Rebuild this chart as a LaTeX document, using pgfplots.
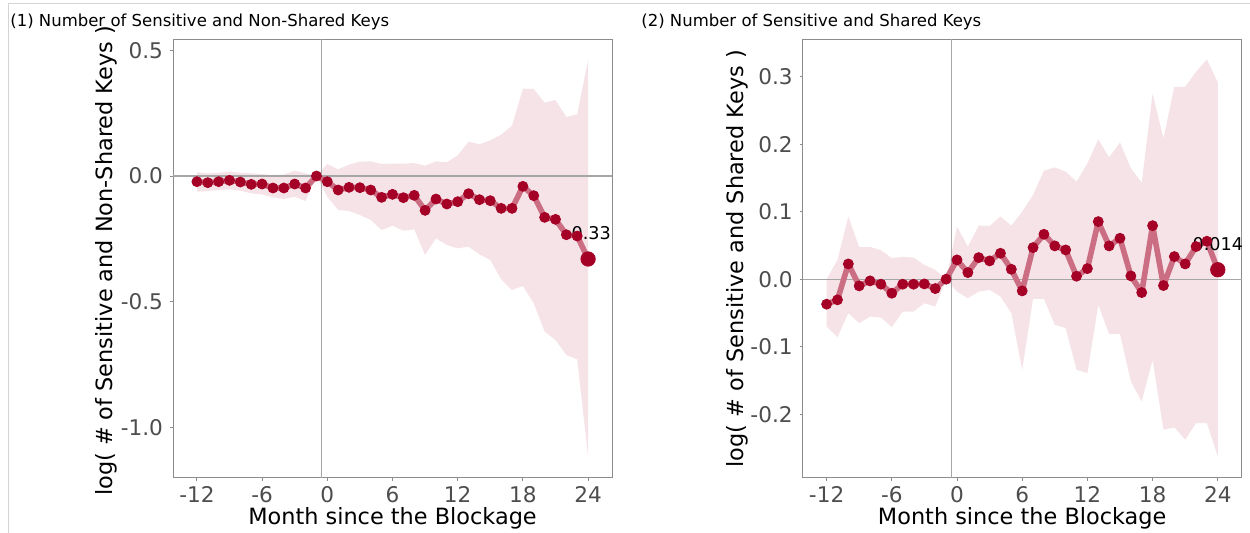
\documentclass[border=0pt]{standalone}
\usepackage{pgfplots}
\pgfplotsset{compat=1.18}
\usepackage{pgfplotstable}
\usepgfplotslibrary{fillbetween}
\usepackage{fontspec}
\setmainfont{DejaVu Sans}

\definecolor{estred}{HTML}{A50026}
\colorlet{bandpink}{estred!11!white}
\colorlet{linepink}{estred!57!white}
\definecolor{refgray}{HTML}{A6A6A6}
\definecolor{framegray}{HTML}{8C8C8C}
\definecolor{ticktext}{HTML}{4D4D4D}
\definecolor{pagegray}{HTML}{D4D4D4}

% event-study estimates: month, point estimate, lower and upper bound
\pgfplotstableread{
m   est      lo       hi
-12 -0.0225 -0.0623  0.0146
-11 -0.0265 -0.0597  0.0106
-10 -0.0225 -0.0557  0.0130
-9  -0.0172 -0.0530  0.0172
-8  -0.0239 -0.0583  0.0130
-7  -0.0331 -0.0690  0.0106
-6  -0.0318 -0.0730  0.0080
-5  -0.0477 -0.0849  0.0040
-4  -0.0477 -0.0915  0.0060
-3  -0.0318 -0.0822  0.0212
-2  -0.0477 -0.0995  0.0106
-1   0.0000  0.0000  0.0000
0   -0.0225 -0.0822  0.0477
1   -0.0557 -0.1352  0.0265
2   -0.0450 -0.1392  0.0450
3   -0.0464 -0.1551  0.0570
4   -0.0557 -0.1750  0.0583
5   -0.0849 -0.2148  0.0477
6   -0.0729 -0.1976  0.0490
7   -0.0862 -0.2175  0.0490
8   -0.0769 -0.2121  0.0517
9   -0.1366 -0.3142  0.0410
10  -0.0915 -0.2479  0.0583
11  -0.1114 -0.2745  0.0544
12  -0.1021 -0.2877  0.0822
13  -0.0703 -0.2811  0.1366
14  -0.0941 -0.3116  0.1260
15  -0.0981 -0.3341  0.1419
16  -0.1286 -0.4110  0.1644
17  -0.1286 -0.4535  0.2002
18  -0.0411 -0.4375  0.3474
19  -0.0782 -0.5065  0.3460
20  -0.1644 -0.6192  0.2917
21  -0.1724 -0.6523  0.3023
22  -0.2335 -0.7120  0.2347
23  -0.2387 -0.7292  0.2453
24  -0.3300 -1.1164  0.4614
}\nonshared

\pgfplotstableread{
m   est      lo       hi
-12 -0.0370 -0.0700  0.0000
-11 -0.0306 -0.0858  0.0286
-10  0.0226 -0.0503  0.0927
-9  -0.0099 -0.0651  0.0473
-8  -0.0025 -0.0553  0.0478
-7  -0.0074 -0.0568  0.0429
-6  -0.0208 -0.0710  0.0311
-5  -0.0074 -0.0479  0.0330
-4  -0.0074 -0.0479  0.0320
-3  -0.0070 -0.0355  0.0212
-2  -0.0139 -0.0405  0.0138
-1   0.0000  0.0000  0.0000
0    0.0286 -0.0183  0.0779
1    0.0098 -0.0282  0.0483
2    0.0320 -0.0183  0.0793
3    0.0271 -0.0158  0.0789
4    0.0384 -0.0257  0.0927
5    0.0147 -0.0503  0.0793
6   -0.0173 -0.1342  0.1000
7    0.0468 -0.0291  0.1247
8    0.0665 -0.0291  0.1607
9    0.0493 -0.0676  0.1656
10   0.0433 -0.0725  0.1592
11   0.0044 -0.1342  0.1444
12   0.0157 -0.1391  0.1716
13   0.0853 -0.0380  0.2071
14   0.0493 -0.0814  0.1804
15   0.0606 -0.0814  0.2026
16   0.0049 -0.1514  0.1642
17  -0.0198 -0.1810  0.1429
18   0.0793 -0.1194  0.2751
19  -0.0094 -0.2229  0.2085
20   0.0335 -0.2195  0.2850
21   0.0226 -0.2377  0.2850
22   0.0483 -0.2131  0.3071
23   0.0562 -0.2131  0.3254
24   0.0140 -0.2624  0.2914
}\shared

\pgfplotsset{
  eventpanel/.style={
    scale only axis, width=219.5pt, height=219.25pt,
    xmin=-14.2, xmax=26.2, clip=false,
    xtick={-12,-6,0,6,12,18,24}, xticklabels={-12,-6,0,6,12,18,24},
    tick align=outside, major tick length=1.5pt,
    xtick pos=bottom, ytick pos=left,
    axis line style={framegray, line width=0.5pt},
    major tick style={framegray, line width=0.5pt},
    ticklabel style={font=\fontsize{10.8}{13}\selectfont, text=ticktext},
    xticklabel style={yshift=1pt},
    label style={font=\fontsize{11.2}{13.4}\selectfont},
    xlabel={Month since the Blockage},
    xlabel style={at={(axis description cs:0.5,-0.0912)}, anchor=center},
  },
}

\begin{document}
\begin{tikzpicture}
\draw[pagegray, line width=0.6pt] (4.25pt,0) -- (4.25pt,264.85pt) -- (625pt,264.85pt);

\node[anchor=base west, font=\fontsize{8.25}{9.9}\selectfont, inner sep=0] at (5pt,253pt)
  {(1) Number of Sensitive and Non-Shared Keys};
\node[anchor=base west, font=\fontsize{8.25}{9.9}\selectfont, inner sep=0] at (320.5pt,253pt)
  {(2) Number of Sensitive and Shared Keys};

% panel 1: non-shared keys
\begin{axis}[eventpanel, at={(86.5pt,27.5pt)}, anchor=south west,
  ymin=-1.201, ymax=0.543,
  ytick={-1,-0.5,0,0.5}, yticklabels={-1.0,-0.5,0.0,0.5},
  ylabel={log( \# of Sensitive and Non-Shared Keys )},
  ylabel style={at={(axis description cs:-0.1515,0.495)}, anchor=center}]
  \addplot[name path=hi, draw=none, forget plot] table[x=m,y=hi]{\nonshared};
  \addplot[name path=lo, draw=none, forget plot] table[x=m,y=lo]{\nonshared};
  \addplot[fill=bandpink, draw=none] fill between[of=hi and lo];
  \addplot[refgray, line width=0.6pt] coordinates {(-0.5,-1.201) (-0.5,0.543)};
  \addplot[refgray, line width=0.6pt] coordinates {(-14.2,0) (26.2,0)};
  \addplot[linepink, line width=2.8pt, line join=round] table[x=m,y=est]{\nonshared};
  \addplot[estred, only marks, mark=*, mark size=2.5pt, mark options={draw=none, fill=estred}]
    table[x=m,y=est]{\nonshared};
  \addplot[estred, only marks, mark=*, mark size=3.6pt, mark options={draw=none, fill=estred}]
    coordinates {(24,-0.33)};
  \node[font=\fontsize{8.8}{10.5}\selectfont, anchor=center, yshift=13pt] at (axis cs:24,-0.33) {-0.33};
\end{axis}

% panel 2: shared keys
\begin{axis}[eventpanel, at={(401.35pt,27.5pt)}, anchor=south west,
  ymin=-0.2944, ymax=0.355,
  ytick={-0.2,-0.1,0,0.1,0.2,0.3}, yticklabels={-0.2,-0.1,0.0,0.1,0.2,0.3},
  ylabel={log( \# of Sensitive and Shared Keys )},
  ylabel style={at={(axis description cs:-0.1497,0.5)}, anchor=center}]
  \addplot[name path=hi, draw=none, forget plot] table[x=m,y=hi]{\shared};
  \addplot[name path=lo, draw=none, forget plot] table[x=m,y=lo]{\shared};
  \addplot[fill=bandpink, draw=none] fill between[of=hi and lo];
  \addplot[refgray, line width=0.6pt] coordinates {(-0.5,-0.2944) (-0.5,0.355)};
  \addplot[refgray, line width=0.6pt] coordinates {(-14.2,0) (26.2,0)};
  \addplot[linepink, line width=2.8pt, line join=round] table[x=m,y=est]{\shared};
  \addplot[estred, only marks, mark=*, mark size=2.5pt, mark options={draw=none, fill=estred}]
    table[x=m,y=est]{\shared};
  \addplot[estred, only marks, mark=*, mark size=3.6pt, mark options={draw=none, fill=estred}]
    coordinates {(24,0.014)};
  \node[font=\fontsize{8.8}{10.5}\selectfont, anchor=center, yshift=13pt] at (axis cs:24,0.014) {0.014};
\end{axis}

% fix the page to the full figure area
\pgfresetboundingbox
\useasboundingbox (0,0) rectangle (625pt,266.5pt);
\end{tikzpicture}
\end{document}
